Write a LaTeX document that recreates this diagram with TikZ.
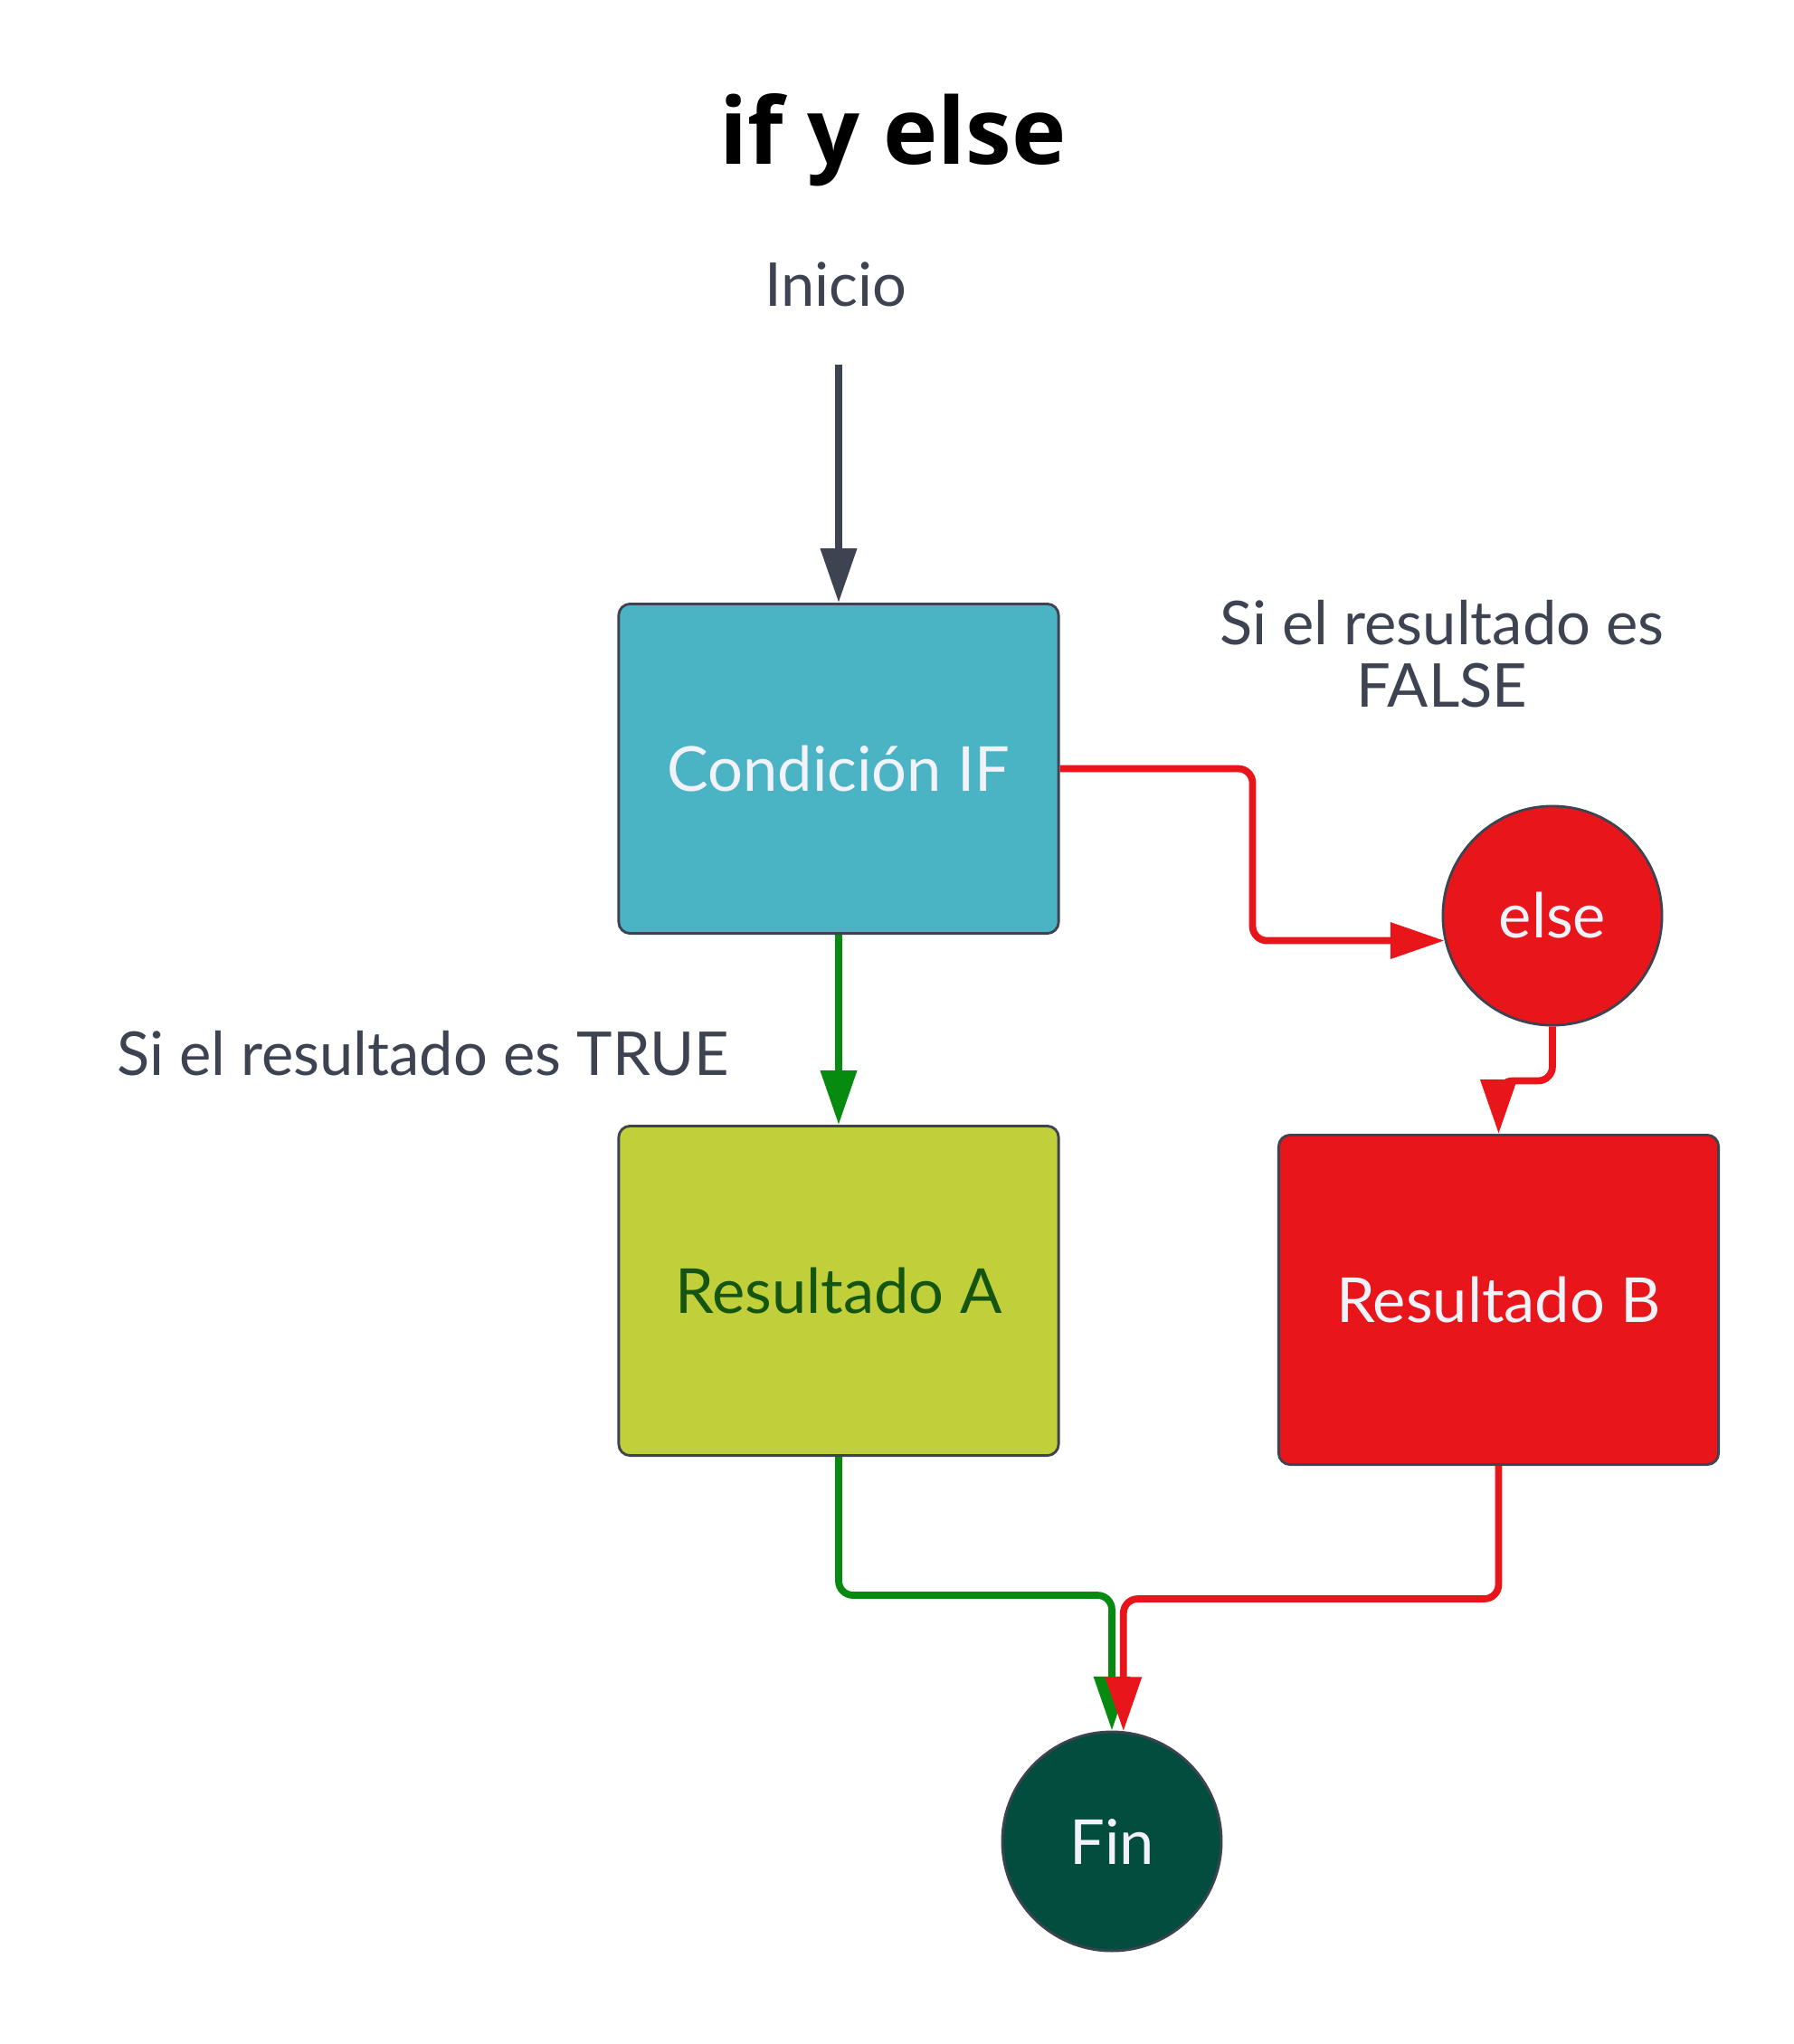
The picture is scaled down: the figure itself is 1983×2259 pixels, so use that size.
\documentclass[tikz,border=0pt]{standalone}
\usepackage{fontspec}
\setmainfont{Lato}
\newfontfamily\titlefont{Open Sans}
\usetikzlibrary{arrows.meta, positioning}
\usepackage{xcolor}

\definecolor{condblue}{HTML}{4AB3C4}
\definecolor{limegreen}{HTML}{C1CF3A}
\definecolor{elsered}{HTML}{E8151A}
\definecolor{findark}{HTML}{034D3F}
\definecolor{truegreen}{HTML}{078A10}
\definecolor{slate}{HTML}{3D4350}
\definecolor{paletext}{HTML}{F2F2FA}
\definecolor{resAtext}{HTML}{14560F}

\tikzset{
	box/.style={draw=slate, line width=0.8pt, rounded corners=3.6pt, minimum width=4.86cm, minimum height=3.64cm, font=\fontsize{19.5}{23}\selectfont},
	bubble/.style={circle, draw=slate, line width=0.8pt, minimum size=2.42cm, text=paletext, font=\fontsize{19.5}{23}\selectfont},
	caption/.style={text=slate, inner sep=0pt, font=\fontsize{19}{19.6}\selectfont},
	flow/.style={->, line width=2.2pt, rounded corners=4.5pt},
}

\begin{document}
\begin{tikzpicture}[x=0.01cm, y=-0.01cm, >={Triangle[length=17pt,width=11pt]}]
		\fill[white] (0,0) rectangle (1983,2259);
		\useasboundingbox (0,0) rectangle (1983,2259);

		\node[inner sep=0pt, font=\titlefont\bfseries\fontsize{29}{35}\selectfont] (title) at (987,155) {if y else};
		\node[caption] (inicio) at (924,314) {Inicio};
		\coordinate (start) at (927,403);

		\node[box, fill=condblue, text=paletext] (cond) at (927,849.5) {Condición IF};
		\node[box, fill=limegreen, text=resAtext] (resA) at (927,1426.5) {Resultado A};
		\node[box, fill=elsered, text=paletext] (resB) at (1656.5,1436.5) {Resultado B};
		\node[bubble, fill=elsered] (els) at (1716,1012) {else};
		\node[bubble, fill=findark] (fin) at (1229,2035) {Fin};

		\node[caption, anchor=east] (truetxt) at (807,1164) {Si el resultado es TRUE};
		\node[caption, align=center] (falsetxt) at (1594,723) {Si el resultado es\\FALSE};

		\draw[flow, slate] (start) -- (cond);
		\draw[flow, truegreen] (cond) -- (resA);
		\draw[flow, elsered] (cond.east) -- ++(213,0) |- (els.193);
		\draw[flow, elsered] (els.south) -- ++(0,60) -| (resB.north);
		\draw[flow, truegreen] (resA.south) -- ++(0,153) -| (fin.north);
		\draw[flow, elsered] (resB.south) -- ++(0,147) -| (fin.84);
	\end{tikzpicture}
\end{document}
